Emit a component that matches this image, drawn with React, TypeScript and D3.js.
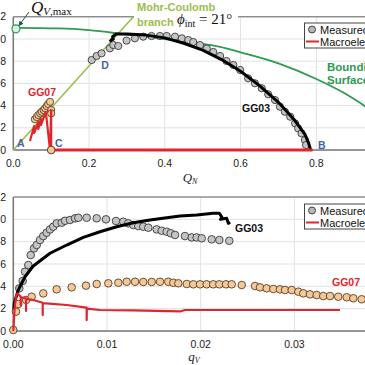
import React from "react";
import * as d3 from "d3";

// ---- top panel: QN - QV plane ----
const yTicks = [0, 0.2, 0.4, 0.6, 0.8, 1.0, 1.2];
const qnTicks = [0, 0.2, 0.4, 0.6, 0.8];
const qvTicks = [0, 0.01, 0.02, 0.03];

const boundQN = [0, 0.12, 0.2, 0.3, 0.4, 0.5, 0.546, 0.6, 0.7, 0.8, 0.87, 0.94];
const boundQV = [1.1, 1.095, 1.08, 1.04, 1.0, 0.955, 0.93, 0.88, 0.78, 0.64, 0.52, 0.37];

const mcQN = [0, 0.317];
const mcQV = [0, 1.2];

const gg03ModelQN = [0.255, 0.26, 0.264, 0.262, 0.268, 0.271, 0.3, 0.35, 0.4, 0.45, 0.5, 0.55, 0.6, 0.65, 0.7, 0.74, 0.77, 0.78, 0.785];
const gg03ModelQV = [0.976, 0.997, 0.997, 1.021, 1.036, 1.045, 1.045, 1.035, 1.01, 0.962, 0.9, 0.815, 0.71, 0.58, 0.43, 0.28, 0.14, 0.06, 0];

const gg03MeasQN = [0.207, 0.22, 0.233, 0.255, 0.264, 0.277, 0.299, 0.321, 0.343, 0.365, 0.387, 0.405, 0.427, 0.445, 0.462, 0.475, 0.493, 0.511, 0.528, 0.546, 0.563, 0.581, 0.599, 0.62, 0.638, 0.656, 0.673, 0.691, 0.704, 0.717, 0.731, 0.744, 0.752, 0.761, 0.77, 0.773];
const gg03MeasQV = [0.811, 0.847, 0.871, 0.916, 0.946, 0.937, 0.985, 1.006, 1.021, 1.027, 1.027, 1.027, 1.021, 1.006, 0.991, 0.973, 0.946, 0.914, 0.883, 0.847, 0.802, 0.766, 0.721, 0.646, 0.601, 0.556, 0.502, 0.45, 0.39, 0.345, 0.3, 0.24, 0.195, 0.15, 0.09, 0.045];

const gg07ModelQN = [0.044, 0.055, 0.055, 0.066, 0.066, 0.073, 0.073, 0.086, 0.097, 0.1, 0.1, 0.79];
const gg07ModelQV = [0.081, 0.216, 0.153, 0.252, 0.189, 0.279, 0.225, 0.342, 0, 0.36, 0, 0];

const gg07MeasQN = [0.057, 0.062, 0.066, 0.071, 0.075, 0.08, 0.084, 0.088, 0.092, 0.097, 0.1, 0.1, 0.1];
const gg07MeasQV = [0.277, 0.297, 0.315, 0.33, 0.345, 0.36, 0.375, 0.395, 0.414, 0.434, 0.36, 0.33, 0];

// ---- bottom panel: qV - QV ----
const gg03BotMeasQ = [0.00064, 0.001, 0.00125, 0.0016, 0.00186, 0.00221, 0.0025, 0.00285, 0.0032, 0.00356, 0.00392, 0.00427, 0.00463, 0.00517, 0.00552, 0.00605, 0.00659, 0.00694, 0.00783, 0.0089, 0.00989, 0.01096, 0.01174, 0.01227, 0.01281, 0.01334, 0.01387, 0.01441, 0.0153, 0.01584, 0.01637, 0.0168, 0.01726, 0.01832, 0.01904, 0.01957, 0.02011, 0.02117, 0.02199, 0.02305];
const gg03BotMeasV = [0.382, 0.448, 0.531, 0.591, 0.68, 0.74, 0.77, 0.815, 0.85, 0.88, 0.91, 0.934, 0.964, 0.97, 0.987, 0.994, 1.009, 1.014, 1.014, 1.009, 1.0, 0.985, 0.979, 0.964, 0.949, 0.94, 0.934, 0.925, 0.91, 0.898, 0.889, 0.875, 0.86, 0.85, 0.838, 0.838, 0.83, 0.821, 0.815, 0.808];

const gg03BotModelQ = [0.00003, 0.0001, 0.00053, 0.00125, 0.00213, 0.00392, 0.0057, 0.00747, 0.00925, 0.01104, 0.01281, 0.01459, 0.01637, 0.01779, 0.01957, 0.02134, 0.02199, 0.02227, 0.02211, 0.02277, 0.02295, 0.02313];
const gg03BotModelV = [0.16, 0.248, 0.367, 0.486, 0.582, 0.696, 0.77, 0.839, 0.889, 0.934, 0.97, 0.994, 1.014, 1.03, 1.038, 1.054, 1.054, 1.018, 1.0, 1.009, 0.964, 0.976];

const gg07BotMeasQ = [0, 0.00029, 0.00053, 0.00136, 0.00196, 0.0032, 0.00463, 0.00623, 0.00776, 0.0089, 0.01014, 0.01121, 0.0121, 0.01299, 0.01387, 0.01477, 0.01566, 0.01654, 0.01708, 0.01761, 0.01851, 0.01921, 0.01993, 0.02064, 0.02134, 0.02199, 0.0227, 0.02331, 0.02438, 0.0258, 0.02633, 0.02704, 0.02775, 0.02846, 0.029, 0.02971, 0.03042, 0.03095, 0.03166, 0.03238, 0.03308, 0.0338, 0.03468, 0.03558, 0.03629, 0.03718];
const gg07BotMeasV = [0.009, 0.173, 0.242, 0.278, 0.307, 0.337, 0.373, 0.391, 0.406, 0.421, 0.427, 0.432, 0.441, 0.441, 0.439, 0.439, 0.441, 0.441, 0.432, 0.427, 0.421, 0.418, 0.418, 0.418, 0.418, 0.418, 0.418, 0.418, 0.412, 0.403, 0.391, 0.382, 0.376, 0.373, 0.367, 0.367, 0.352, 0.337, 0.328, 0.322, 0.313, 0.313, 0.307, 0.302, 0.293, 0.284];

const gg07BotModelQ = [0, 0.00013, 0.00029, 0.00045, 0.00079, 0.00079, 0.00079, 0.00114, 0.00136, 0.00136, 0.00136, 0.00213, 0.00314, 0.00314, 0.00314, 0.0057, 0.00783, 0.00783, 0.00785, 0.00925, 0.01281, 0.01779, 0.01832, 0.03486];
const gg07BotModelV = [0, 0.188, 0.313, 0.337, 0.307, 0.233, 0.305, 0.295, 0.293, 0.179, 0.29, 0.278, 0.253, 0.143, 0.25, 0.233, 0.209, 0.098, 0.2, 0.188, 0.184, 0.175, 0.188, 0.188];

const RED = "#e0262c";
const GREEN = "#2e9a52";
const LIME = "#9bbe4e";
const BLUE = "#4a62a8";
const FONT = "Liberation Sans, Arial, sans-serif";
const SERIF = "Liberation Serif, Times New Roman, serif";

const zip = (a: number[], b: number[]) => a.map((v, i) => [v, b[i]] as [number, number]);

const xTop = d3.scaleLinear().domain([0, 0.8]).range([13.3, 316.3]);
const yTop = d3.scaleLinear().domain([0, 1.2]).range([150, 16.8]);
const xBot = d3.scaleLinear().domain([0, 0.03]).range([13.3, 294.4]);
const yBot = d3.scaleLinear().domain([0, 1.2]).range([331, 197]);

function Panel({ x, y, xt, fmt }: any) {
  const [x0, x1] = [x.range()[0], 365];
  const [y0, y1] = y.range();
  return (
    <g>
      {yTicks.map((t) => (
        <line key={"h" + t} x1={x0} x2={x1} y1={y(t)} y2={y(t)} stroke="#e2e2e2" />
      ))}
      {xt.map((t: number) => (
        <line key={"v" + t} x1={x(t)} x2={x(t)} y1={y0} y2={y1} stroke="#e2e2e2" />
      ))}
      <line x1={x0} x2={x1} y1={y1} y2={y1} stroke="#666" strokeWidth={1} />
      <line x1={x0} x2={x0} y1={y0} y2={y1} stroke="#777" strokeWidth={1.5} />
      <line x1={x0} x2={x1} y1={y0} y2={y0} stroke="#777" strokeWidth={1.5} />
      {yTicks.map((t) => (
        <text key={"yl" + t} x={6} y={y(t) + 3.5} textAnchor="end" fontSize={10.5} fontFamily={FONT} fill="#222">
          {t.toFixed(1)}
        </text>
      ))}
      {xt.map((t: number) => (
        <text key={"xl" + t} x={x(t)} y={y0 + 17} textAnchor="middle" fontSize={10.5} fontFamily={FONT} fill="#222">
          {fmt(t)}
        </text>
      ))}
    </g>
  );
}

function Dots({ pts, x, y, fill, stroke, r }: any) {
  return (
    <g>
      {pts.map((p: [number, number], i: number) => (
        <circle key={i} cx={x(p[0])} cy={y(p[1])} r={r} fill={fill} stroke={stroke} strokeWidth={0.9} />
      ))}
    </g>
  );
}

function Legend({ top }: { top: number }) {
  return (
    <g fontFamily={FONT} fontSize={11} fill="#111">
      <rect x={304.5} y={top} width={70} height={25} fill="white" stroke="#444" strokeWidth={1} />
      <circle cx={312} cy={top + 6.5} r={3.5} fill="#b8b8b8" stroke="#333" strokeWidth={0.9} />
      <text x={320} y={top + 10.5}>Measured</text>
      <line x1={306} x2={319} y1={top + 18.5} y2={top + 18.5} stroke={RED} strokeWidth={2} />
      <text x={320} y={top + 22.5}>Macroelement</text>
    </g>
  );
}

export default function App() {
  const lineTop = d3.line<[number, number]>().x((d) => xTop(d[0])).y((d) => yTop(d[1]));
  const curveTop = d3.line<[number, number]>().x((d) => xTop(d[0])).y((d) => yTop(d[1])).curve(d3.curveMonotoneX);
  const lineBot = d3.line<[number, number]>().x((d) => xBot(d[0])).y((d) => yBot(d[1]));

  const bold = { fontFamily: FONT, fontWeight: 700, fontSize: 10.5 } as const;

  return (
    <svg width={365} height={365} style={{ position: "absolute", left: 0, top: 0, background: "white" }}>
      {/* top panel */}
      <Panel x={xTop} y={yTop} xt={qnTicks} fmt={(t: number) => t.toFixed(1)} />
      <path d={lineTop(zip(mcQN, mcQV)) || ""} fill="none" stroke={LIME} strokeWidth={1.6} />
      <path d={curveTop(zip(boundQN, boundQV)) || ""} fill="none" stroke={GREEN} strokeWidth={1.8} />
      <circle cx={xTop(0.007)} cy={yTop(1.092)} r={4} fill="#d7f1ea" stroke={GREEN} strokeWidth={1.2} />
      <Dots pts={zip(gg03MeasQN, gg03MeasQV)} x={xTop} y={yTop} fill="#c4c4c4" stroke="#3a3a3a" r={3.6} />
      <path d={lineTop(zip(gg03ModelQN, gg03ModelQV)) || ""} fill="none" stroke="#000" strokeWidth={3} strokeLinejoin="round" />
      <Dots pts={zip(gg07MeasQN, gg07MeasQV)} x={xTop} y={yTop} fill="#f4c99a" stroke="#5a3d20" r={3.6} />
      <path d={lineTop(zip(gg07ModelQN, gg07ModelQV)) || ""} fill="none" stroke={RED} strokeWidth={2.2} strokeLinejoin="round" />
      <path d={lineTop([[0.1, 0], [0.79, 0]]) || ""} fill="none" stroke={RED} strokeWidth={3} />
      <circle cx={xTop(0.1)} cy={yTop(0)} r={3.8} fill="#f4c99a" stroke="#5a3d20" strokeWidth={0.9} />

      {/* top annotations */}
      <rect x={134} y={0} width={104} height={29} fill="white" />
      <text x={137} y={11} fill={LIME} {...bold} fontSize={11}>Mohr-Coulomb</text>
      <text x={137} y={26} fill={LIME} {...bold} fontSize={11}>branch</text>
      <text x={177} y={24} fontFamily={SERIF} fontSize={15} fill="#111">
        <tspan fontStyle="italic">ϕ</tspan>
        <tspan fontSize={10} dy={3}>int</tspan>
        <tspan dy={-3}> = 21°</tspan>
      </text>
      <text x={31} y={13} fontFamily={SERIF} fontSize={17} fill="#111">
        <tspan fontStyle="italic">Q</tspan>
        <tspan fontSize={11} dy={2} fontStyle="italic">V</tspan>
        <tspan fontSize={11}>,max</tspan>
      </text>
      <defs>
        <marker id="ah" viewBox="0 0 6 6" refX={5} refY={3} markerWidth={5} markerHeight={5} orient="auto">
          <path d="M0,0 L6,3 L0,6 z" fill="#1e5a44" />
        </marker>
      </defs>
      <line x1={29} x2={19} y1={12} y2={25.5} stroke="#1e5a44" strokeWidth={1} markerEnd="url(#ah)" />
      <text x={xTop(0.232)} y={yTop(0.73)} fill={BLUE} {...bold}>D</text>
      <text x={17} y={147} fill={BLUE} {...bold}>A</text>
      <text x={55} y={147} fill={BLUE} {...bold}>C</text>
      <text x={318} y={149} fill={BLUE} {...bold}>B</text>
      <text x={28} y={96} fill={RED} {...bold}>GG07</text>
      <text x={242} y={112} fill="#111" {...bold}>GG03</text>
      <text x={327} y={71} fill={GREEN} {...bold} fontSize={11.5}>Bounding</text>
      <text x={327} y={84} fill={GREEN} {...bold} fontSize={11.5}>Surface</text>
      <Legend top={23} />
      <text x={190} y={182} textAnchor="middle" fontFamily={SERIF} fontStyle="italic" fontSize={13} fill="#222">
        Q<tspan fontSize={8} dy={2}>N</tspan>
      </text>

      {/* bottom panel */}
      <Panel x={xBot} y={yBot} xt={qvTicks} fmt={(t: number) => t.toFixed(2)} />
      <Dots pts={zip(gg03BotMeasQ, gg03BotMeasV)} x={xBot} y={yBot} fill="#c4c4c4" stroke="#3a3a3a" r={3.8} />
      <path d={lineBot(zip(gg03BotModelQ, gg03BotModelV)) || ""} fill="none" stroke="#000" strokeWidth={3} strokeLinejoin="round" />
      <Dots pts={zip(gg07BotMeasQ, gg07BotMeasV)} x={xBot} y={yBot} fill="#f4c99a" stroke="#5a3d20" r={3.8} />
      <path d={lineBot(zip(gg07BotModelQ, gg07BotModelV)) || ""} fill="none" stroke={RED} strokeWidth={2.2} strokeLinejoin="round" />
      <text x={235} y={232} fill="#111" {...bold}>GG03</text>
      <text x={332} y={286} fill={RED} {...bold}>GG07</text>
      <Legend top={204} />
      <text x={194} y={361} textAnchor="middle" fontFamily={SERIF} fontStyle="italic" fontSize={13} fill="#222">
        q<tspan fontSize={8} dy={2}>V</tspan>
      </text>
    </svg>
  );
}
